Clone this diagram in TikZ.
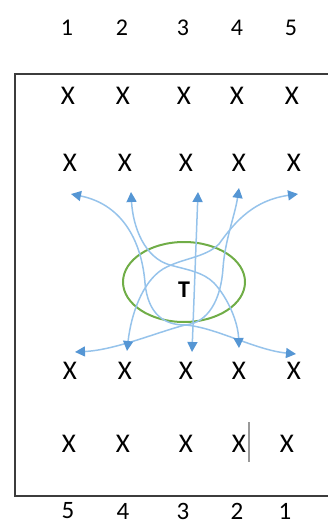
\documentclass[tikz,border=0pt]{standalone}
\usepackage{fontspec}
\setmainfont{Carlito}
\usetikzlibrary{arrows.meta}
\definecolor{lineblue}{RGB}{150,195,235}
\definecolor{tipblue}{RGB}{85,150,212}
\definecolor{ellgreen}{RGB}{112,173,71}
\definecolor{boxgray}{RGB}{60,60,60}
\tikzset{
  cross/.style={inner sep=0pt,font=\fontsize{27}{27}\selectfont},
  topnum/.style={inner sep=0pt,font=\fontsize{24}{24}\selectfont},
  botnum/.style={inner sep=0pt,font=\fontsize{25}{25}\selectfont},
  flow/.style={draw=lineblue,line width=1.5pt,
    {Triangle[length=10pt,width=10pt,color=tipblue]}-{Triangle[length=10pt,width=10pt,color=tipblue]}},
}
\begin{document}
\begin{tikzpicture}[x=1pt,y=-1pt]
\useasboundingbox (0,0) rectangle (328,524);
% box
\draw[boxgray,line width=2pt] (330,74) -- (15,74) -- (15,496) -- (330,496);
% top numbers
\foreach \t/\x in {1/67,2/122,3/183,4/237,5/291}
  \node[topnum] (top\t) at (\x,28) {\t};
% bottom numbers
\foreach \t/\x in {5/68,4/123,3/183,2/237,1/285}
  \node[botnum] (bot\t) at (\x,511) {\t};
% rows of X
\foreach \i/\x in {1/68,2/123,3/184,4/237,5/292}
  \node[cross] (ra\i) at (\x,96) {X};
\foreach \i/\x in {1/70,2/125,3/186,4/239,5/294}
  \node[cross] (rb\i) at (\x,163) {X};
\foreach \i/\x in {1/70,2/125,3/186,4/239,5/294}
  \node[cross] (rc\i) at (\x,371) {X};
\foreach \i/\x in {1/69,2/123,3/186,4/239,5/287}
  \node[cross] (rd\i) at (\x,444) {X};
% cursor mark
\draw[gray!80,line width=1.6pt] (249,422) -- (249,462);
% ellipse and T
\draw[ellgreen,line width=2pt] (184,282) ellipse [x radius=61,y radius=40];
\node[inner sep=0pt,font=\fontsize{24}{24}\selectfont\bfseries] (T) at (184,290) {T};
% tips
\coordinate (u1) at (71,194);
\coordinate (u2) at (131,192);
\coordinate (u3) at (198,192);
\coordinate (u4) at (239,188);
\coordinate (u5) at (298,194);
\coordinate (l1) at (75,352);
\coordinate (l2) at (127,351);
\coordinate (l3) at (192,352);
\coordinate (l4) at (239,348);
\coordinate (l5) at (296,354);
\coordinate (m) at (185,325);
% flows
\draw[flow] (u1) .. controls (125,205) and (142,245) .. (145,283)
  .. controls (148,315) and (165,325) .. (m)
  .. controls (215,327) and (255,350) .. (l5);
\draw[flow] (u4) .. controls (235,215) and (225,240) .. (223,268)
  .. controls (221,300) and (208,323) .. (m)
  .. controls (155,333) and (115,350) .. (l1);
\draw[flow] (u2) .. controls (133,228) and (145,258) .. (170,265)
  .. controls (188,270) and (203,272) .. (214,283)
  .. controls (228,298) and (238,322) .. (l4);
\draw[flow] (l2) .. controls (131,315) and (142,282) .. (163,269)
  .. controls (182,258) and (205,258) .. (219,244)
  .. controls (236,220) and (255,200) .. (u5);
\draw[flow] (u3) -- (l3);
\end{tikzpicture}
\end{document}
